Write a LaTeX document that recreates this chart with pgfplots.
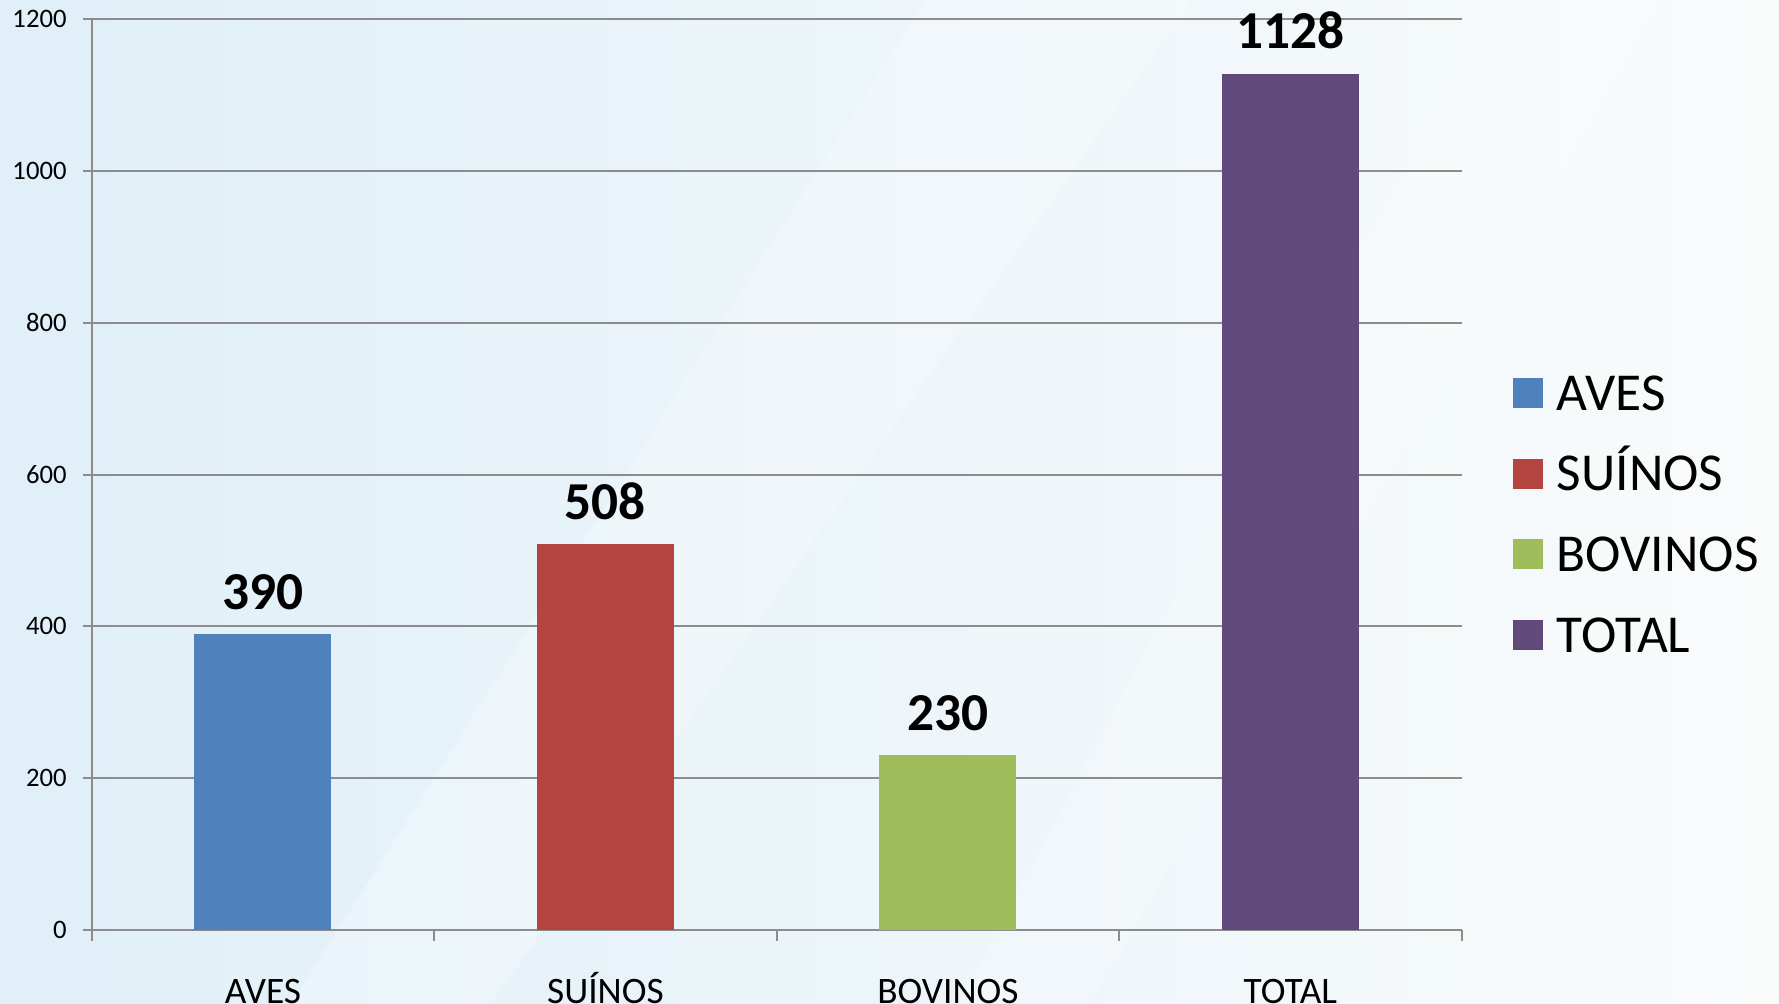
\documentclass[border=0pt]{standalone}
\usepackage{pgfplots}
\pgfplotsset{compat=1.18}
\usepackage{fontspec}
\setmainfont{Carlito}
\definecolor{cA}{HTML}{4F81BD}
\definecolor{cS}{HTML}{B3443F}
\definecolor{cB}{HTML}{9FBE5B}
\definecolor{cT}{HTML}{614A7B}
\definecolor{gridc}{HTML}{8C8C8C}
\definecolor{bgL}{HTML}{E0EFF8}
\definecolor{bgR}{HTML}{F9FBFB}
\begin{document}
\begin{tikzpicture}
\clip (-27.5pt,-21.9pt) rectangle (506.2pt,279pt);
\shade[left color=bgL, right color=bgR] (-27.5pt,-21.9pt) rectangle (506.2pt,279pt);
\fill[white, opacity=0.25] (60pt,-21.9pt) -- (120pt,-21.9pt) -- (330pt,279pt) -- (250pt,279pt) -- cycle;
\fill[white, opacity=0.2] (260pt,-21.9pt) -- (300pt,-21.9pt) -- (470pt,279pt) -- (420pt,279pt) -- cycle;
\begin{axis}[
  at={(0pt,0pt)}, anchor=south west,
  scale only axis, width=411pt, height=273.3pt,
  xmin=-0.5, xmax=3.5, ymin=0, ymax=1200,
  ytick={0,200,...,1200},
  xtick={0,1,2,3}, xticklabels={AVES,SUÍNOS,BOVINOS,TOTAL},
  x tick style={draw=none},
  extra x ticks={-0.5,0.5,1.5,2.5,3.5}, extra x tick labels={},
  extra x tick style={x tick style={draw=gridc, line width=0.6pt}, major tick length=3.2pt, tick align=outside, grid=none},
  axis x line*=bottom, axis y line*=left,
  ymajorgrids, major grid style={gridc, line width=0.6pt},
  axis line style={gridc, line width=0.6pt},
  y tick style={gridc, line width=0.6pt},
  tick align=outside, major tick length=2.6pt,
  yticklabel style={font=\fontsize{8}{9.6}\selectfont, text=black, xshift=-1.4pt},
  xticklabel style={font=\fontsize{11.2}{13}\selectfont, text=black, anchor=north, text height=8pt, text depth=0pt, yshift=-8pt},
  /pgf/number format/assume math mode=true,
  /pgf/number format/1000 sep={},
  ybar, bar width=0.4, bar shift=0pt,
  nodes near coords,
  nodes near coords style={font=\bfseries\fontsize{16}{19}\selectfont, yshift=3.8pt, text=black},
  clip=false,
  legend cell align=left,
  legend image code/.code={\fill[#1] (0pt,-4.5pt) rectangle (9pt,4.5pt);},
  legend style={at={(1.0367,0.4565)}, anchor=west, draw=none, fill=none, inner sep=0pt,
    font=\fontsize{16}{19}\selectfont, row sep=7.9pt,
    nodes={inner xsep=4.3pt, inner ysep=0pt, text height=13.3pt, text depth=3pt}},
]
\addplot[fill=cA, draw=none] coordinates {(0,390)};
\addplot[fill=cS, draw=none] coordinates {(1,508)};
\addplot[fill=cB, draw=none] coordinates {(2,230)};
\addplot[fill=cT, draw=none] coordinates {(3,1128)};
\legend{AVES,SUÍNOS,BOVINOS,TOTAL}
\end{axis}
\end{tikzpicture}
\end{document}
